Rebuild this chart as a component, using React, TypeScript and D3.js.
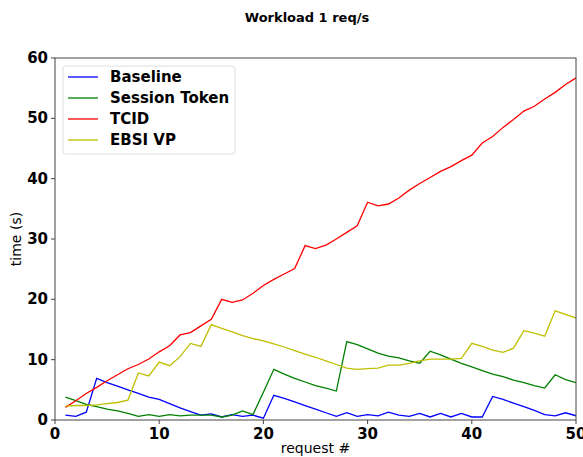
import React from 'react';
import * as d3 from 'd3';

const requests = d3.range(1, 51);

const baseline = [0.8, 0.6, 1.3, 6.9, 6.2, 5.6, 5.0, 4.4, 3.8, 3.4, 2.7, 2.0, 1.4, 0.8, 1.0, 0.5, 0.9, 0.6, 0.8, 0.3,
  4.1, 3.6, 3.0, 2.4, 1.8, 1.2, 0.6, 1.2, 0.6, 0.9, 0.7, 1.3, 0.8, 0.6, 1.1, 0.5, 1.1, 0.5, 1.1, 0.5,
  0.5, 3.9, 3.4, 2.8, 2.2, 1.6, 0.9, 0.7, 1.2, 0.7];
const sessionToken = [3.8, 3.2, 2.6, 2.2, 1.8, 1.5, 1.1, 0.6, 0.9, 0.6, 0.9, 0.7, 0.8, 0.8, 0.8, 0.5, 0.8, 1.5, 0.9, 4.6,
  8.4, 7.6, 6.9, 6.3, 5.7, 5.3, 4.8, 13.0, 12.5, 11.8, 11.1, 10.6, 10.3, 9.8, 9.4, 11.4, 10.8, 10.1, 9.4, 8.8,
  8.2, 7.6, 7.2, 6.6, 6.2, 5.7, 5.3, 7.5, 6.7, 6.2];
const tcid = [2.1, 3.2, 4.4, 5.4, 6.5, 7.5, 8.5, 9.2, 10.1, 11.3, 12.3, 14.1, 14.5, 15.6, 16.7, 20.0, 19.5, 19.9, 21.0, 22.3,
  23.3, 24.2, 25.1, 28.9, 28.4, 29.0, 30.0, 31.1, 32.2, 36.1, 35.5, 35.8, 36.8, 38.1, 39.2, 40.2, 41.2, 42.0, 43.0, 43.9,
  45.9, 47.0, 48.5, 49.8, 51.2, 52.0, 53.2, 54.3, 55.6, 56.7];
const ebsiVp = [2.3, 2.4, 2.4, 2.5, 2.7, 2.9, 3.3, 7.8, 7.3, 9.6, 9.0, 10.5, 12.7, 12.2, 15.8, 15.2, 14.6, 14.0, 13.5, 13.1,
  12.6, 12.1, 11.5, 10.9, 10.4, 9.8, 9.2, 8.6, 8.4, 8.5, 8.6, 9.1, 9.1, 9.4, 9.8, 10.1, 10.1, 10.1, 10.2, 12.7,
  12.2, 11.6, 11.2, 11.9, 14.8, 14.4, 13.9, 18.1, 17.5, 16.9];

const seriesNames = ['Baseline', 'Session Token', 'TCID', 'EBSI VP'];
const seriesValues = [baseline, sessionToken, tcid, ebsiVp];
const seriesColors = ['#0000ff', '#008000', '#ff0000', '#bfbf00'];

const xTicks = [0, 10, 20, 30, 40, 50];
const yTicks = [0, 10, 20, 30, 40, 50, 60];

const W = 583;
const H = 457;
const m = { left: 55, right: 7, top: 58, bottom: 37 };

export default function App() {
  const x = d3.scaleLinear().domain([0, 50]).range([m.left, W - m.right]);
  const y = d3.scaleLinear().domain([0, 60]).range([H - m.bottom, m.top]);
  const line = d3.line<number>().x((_, i) => x(requests[i])).y(d => y(d));
  const font = 'DejaVu Sans, sans-serif';

  return (
    <svg width={W} height={H} style={{ position: 'absolute', left: 0, top: 0, background: '#fff' }} fontFamily={font}>
      <text x={307} y={22} textAnchor="middle" fontSize={13} fontWeight="bold">Workload 1 req/s</text>

      <g clipPath="url(#plot)">
        <clipPath id="plot">
          <rect x={m.left} y={m.top} width={W - m.left - m.right} height={H - m.top - m.bottom} />
        </clipPath>
        {seriesValues.map((vals, k) => (
          <path key={k} d={line(vals) || ''} fill="none" stroke={seriesColors[k]} strokeWidth={1.3} />
        ))}
      </g>

      <rect x={m.left} y={m.top} width={W - m.left - m.right} height={H - m.top - m.bottom} fill="none" stroke="#444" strokeWidth={1} />

      {xTicks.map(t => (
        <g key={t}>
          <line x1={x(t)} x2={x(t)} y1={H - m.bottom} y2={H - m.bottom + 4} stroke="#444" />
          <text x={x(t)} y={H - m.bottom + 19} textAnchor="middle" fontSize={15} fontWeight="bold">{t}</text>
        </g>
      ))}
      {yTicks.map(t => (
        <g key={t}>
          <line x1={m.left - 4} x2={m.left} y1={y(t)} y2={y(t)} stroke="#444" />
          <text x={m.left - 7} y={y(t) + 5} textAnchor="end" fontSize={15} fontWeight="bold">{t}</text>
        </g>
      ))}

      <text x={(m.left + W - m.right) / 2} y={453} textAnchor="middle" fontSize={14}>request #</text>
      <text transform={`translate(21,${(m.top + H - m.bottom) / 2}) rotate(-90)`} textAnchor="middle" fontSize={14}>time (s)</text>

      <g>
        <rect x={63} y={66} width={172} height={88} rx={3} fill="#fff" fillOpacity={0.8} stroke="#ddd" />
        {seriesNames.map((name, k) => (
          <g key={name} transform={`translate(0,${77 + k * 21})`}>
            <line x1={68} x2={98} y1={0} y2={0} stroke={seriesColors[k]} strokeWidth={1.3} />
            <text x={110} y={5} fontSize={15} fontWeight="bold">{name}</text>
          </g>
        ))}
      </g>
    </svg>
  );
}
